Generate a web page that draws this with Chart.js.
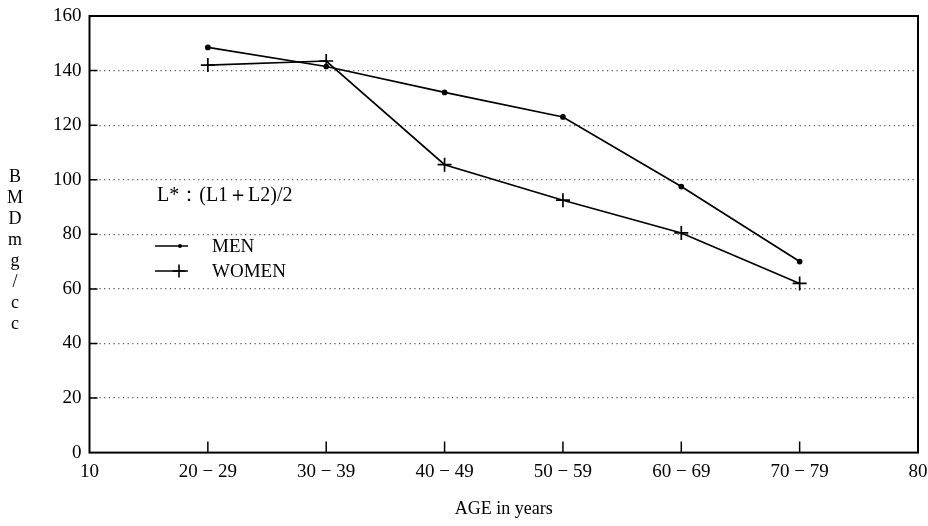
<!DOCTYPE html>
<html>
<head>
<meta charset="utf-8">
<script src="https://cdn.jsdelivr.net/npm/chart.js@4"></script>
<style>
  html, body { margin: 0; padding: 0; background: #fff; }
  #wrap { width: 928px; height: 526px; }
</style>
</head>
<body>
<div id="wrap"><canvas id="bmdChart" width="928" height="526"></canvas></div>
<script>
const ageX = [20, 30, 40, 50, 60, 70];
const xTickLabels = { 10: '10', 20: '20 − 29', 30: '30 − 39', 40: '40 − 49', 50: '50 − 59', 60: '60 − 69', 70: '70 − 79', 80: '80' };
const menBMD = [148.5, 141.5, 132, 123, 97.5, 70];
const womenBMD = [142, 143.5, 105.5, 92.5, 80.5, 62];
const yTitleLetters = ['B', 'M', 'D', 'm', 'g', '/', 'c', 'c'];
const legendNote = 'L*：(L1＋L2)/2';

const serif = '"Liberation Serif", "DejaVu Serif", serif';

// box, inward ticks, stacked y title and the in-plot legend
const decorations = {
  id: 'decorations',
  afterDraw(chart) {
    const { ctx, chartArea: a, scales } = chart;
    ctx.save();
    ctx.strokeStyle = '#000';
    ctx.lineWidth = 2;
    ctx.strokeRect(a.left, a.top, a.right - a.left, a.bottom - a.top);

    ctx.lineWidth = 1.5;
    ctx.beginPath();
    scales.x.ticks.forEach(t => {
      if (t.value <= 10 || t.value >= 80) return;
      const x = scales.x.getPixelForValue(t.value);
      ctx.moveTo(x, a.bottom);
      ctx.lineTo(x, a.bottom - 11);
    });
    scales.y.ticks.forEach(t => {
      if (t.value <= 0 || t.value >= 160) return;
      const y = scales.y.getPixelForValue(t.value);
      ctx.moveTo(a.left, y);
      ctx.lineTo(a.left + 8, y);
    });
    ctx.stroke();

    ctx.fillStyle = '#000';
    ctx.font = '18px ' + serif;
    ctx.textAlign = 'center';
    ctx.textBaseline = 'middle';
    yTitleLetters.forEach((ch, i) => ctx.fillText(ch, 15, 177 + i * 21));

    ctx.textAlign = 'left';
    ctx.font = '20px ' + serif;
    ctx.fillText(legendNote, 157, 196);

    ctx.font = '19px ' + serif;
    const ds = chart.data.datasets;
    [ds[0], ds[1]].forEach((d, i) => {
      const y = 246 + i * 25;
      ctx.beginPath();
      ctx.lineWidth = 1.6;
      ctx.moveTo(155, y);
      ctx.lineTo(188, y);
      ctx.stroke();
      if (i === 0) {
        ctx.beginPath();
        ctx.arc(180, y, 2, 0, Math.PI * 2);
        ctx.fill();
      } else {
        Chart.helpers.drawPoint(ctx, { pointStyle: d.pointStyle, radius: 6.5, borderWidth: 1.6 }, 179, y);
      }
      ctx.fillText(d.label, 212, y + 1);
    });
    ctx.restore();
  }
};

new Chart(document.getElementById('bmdChart'), {
  type: 'line',
  data: {
    datasets: [
      {
        label: 'MEN',
        data: ageX.map((x, i) => ({ x, y: menBMD[i] })),
        borderColor: '#000',
        backgroundColor: '#000',
        borderWidth: 1.7,
        pointStyle: 'circle',
        pointRadius: 2,
        tension: 0
      },
      {
        label: 'WOMEN',
        data: ageX.map((x, i) => ({ x, y: womenBMD[i] })),
        borderColor: '#000',
        backgroundColor: '#000',
        borderWidth: 1.7,
        pointStyle: 'cross',
        pointRadius: 7,
        pointBorderWidth: 1.7,
        tension: 0
      }
    ]
  },
  options: {
    responsive: false,
    animation: false,
    layout: { padding: { left: 45, right: 0, top: 16, bottom: 6 } },
    plugins: {
      legend: { display: false },
      tooltip: { enabled: false }
    },
    scales: {
      x: {
        type: 'linear',
        min: 10,
        max: 80,
        afterFit: s => { s.paddingRight = 10; },
        ticks: {
          stepSize: 10,
          color: '#000',
          font: { family: serif, size: 19 },
          padding: 8,
          maxRotation: 0,
          callback: v => xTickLabels[v]
        },
        grid: { display: false, drawTicks: false },
        border: { display: false },
        title: {
          display: true,
          text: 'AGE in years',
          color: '#000',
          font: { family: serif, size: 18 },
          padding: { top: 7, bottom: 0 }
        }
      },
      y: {
        min: 0,
        max: 160,
        afterFit: s => { s.paddingTop = 0; },
        ticks: {
          stepSize: 20,
          color: '#000',
          font: { family: serif, size: 19 },
          padding: 8
        },
        grid: {
          drawTicks: false,
          lineWidth: 1.2,
          color: c => (c.tick.value === 0 || c.tick.value === 160) ? 'rgba(0,0,0,0)' : '#555'
        },
        border: { display: false, dash: [1.2, 3.5] }
      }
    }
  },
  plugins: [decorations]
});
</script>
</body>
</html>
